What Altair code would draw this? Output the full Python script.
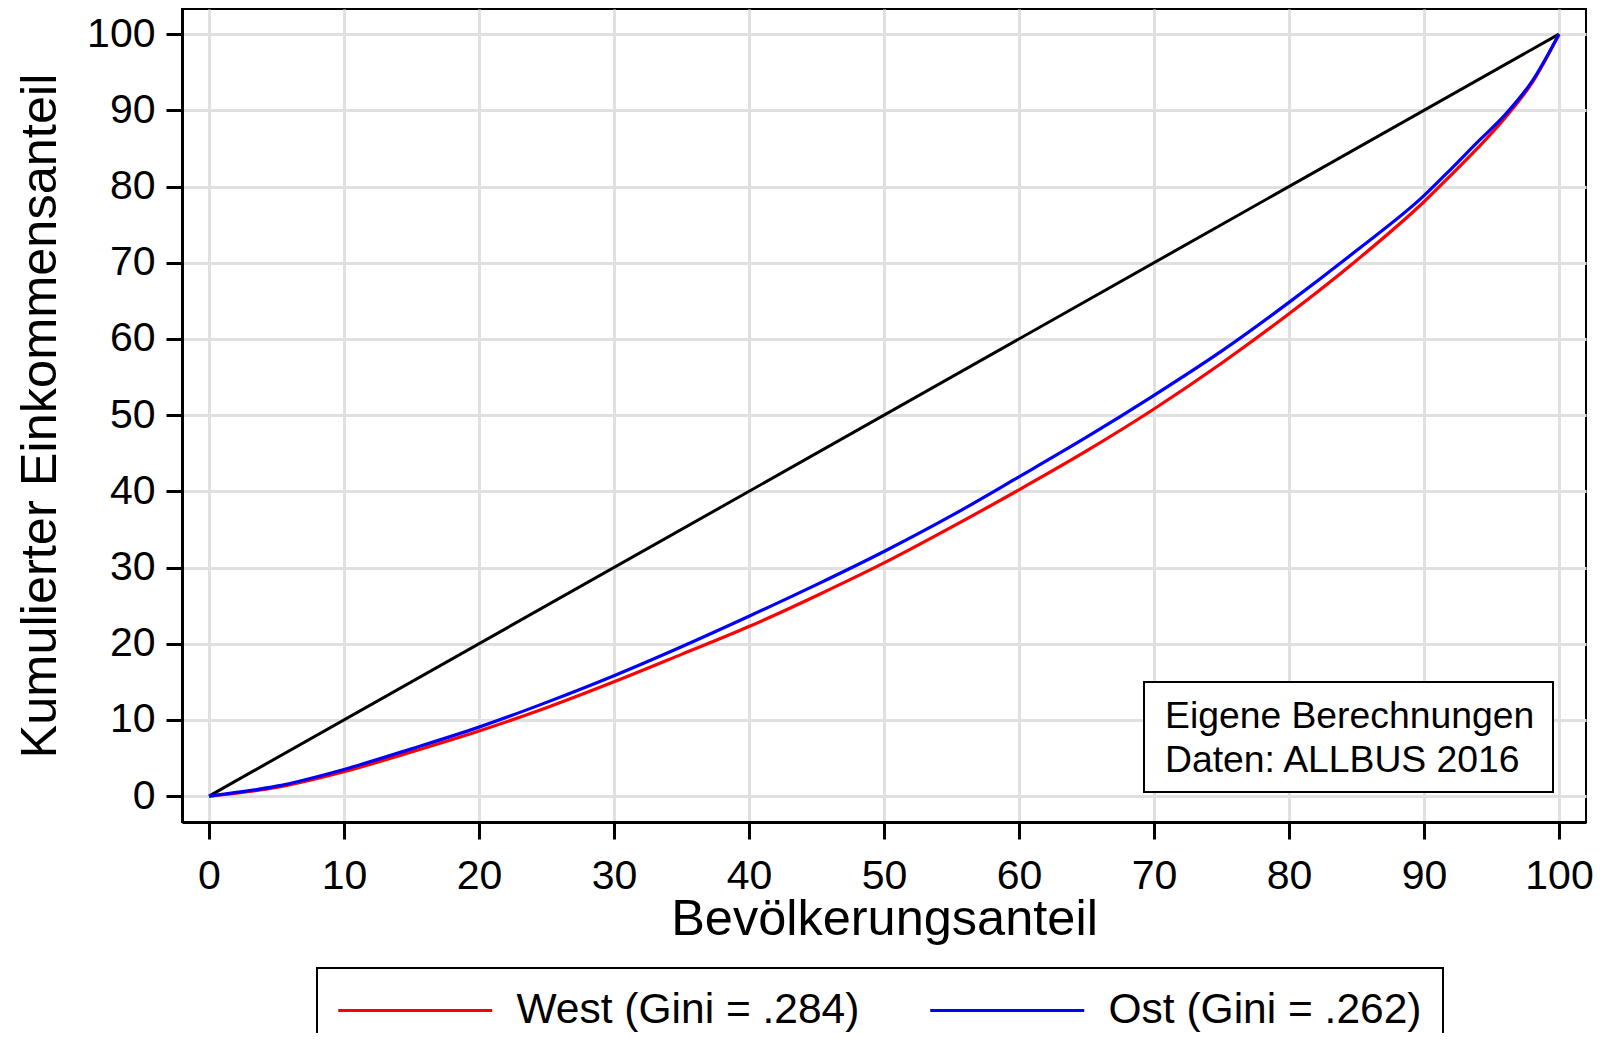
import altair as alt
import pandas as pd

# ---- data ----
pop_share = [0, 5, 10, 15, 20, 25, 30, 35, 40, 45, 50, 55, 60, 65, 70, 75, 80, 85, 90, 92, 94, 96, 98, 100]
west_share = [0, 1.15, 3.2, 5.8, 8.55, 11.6, 15.0, 18.6, 22.25, 26.3, 30.6, 35.3, 40.2, 45.3, 50.8, 56.8, 63.3, 70.3, 78.0, 81.5, 85.1, 89.0, 93.6, 100]
ost_share = [0, 1.3, 3.5, 6.2, 9.05, 12.3, 15.8, 19.6, 23.6, 27.75, 32.1, 36.8, 41.9, 47.1, 52.6, 58.4, 64.8, 71.6, 78.8, 82.3, 85.9, 89.4, 93.8, 100]
diag_x = [0, 100]
diag_y = [0, 100]
series_names = ["West (Gini = .284)", "Ost (Gini = .262)"]
series_colors = ["#ff0000", "#0000ff"]
x_ticks = list(range(0, 101, 10))
y_ticks = list(range(0, 101, 10))
note_lines = ["Eigene Berechnungen", "Daten: ALLBUS 2016"]
x_title = "Bevölkerungsanteil"
y_title = "Kumulierter Einkommensanteil"

FONT = "Liberation Sans"

n = len(pop_share)
curves = pd.DataFrame({
    "x": pop_share * 2,
    "y": west_share + ost_share,
    "series": [series_names[0]] * n + [series_names[1]] * n,
})
diag = pd.DataFrame({"x": diag_x, "y": diag_y})

xenc = alt.X("x:Q",
             scale=alt.Scale(domain=[-2, 102], nice=False, zero=False),
             axis=alt.Axis(values=x_ticks, title=x_title, tickSize=17, labelPadding=17,
                           titleBaseline="alphabetic", titleY=112, format="d"))
yenc = alt.Y("y:Q",
             scale=alt.Scale(domain=[-3.4, 103.3], nice=False, zero=False),
             axis=alt.Axis(values=y_ticks, title=y_title, tickSize=16, labelPadding=11,
                           titleBaseline="alphabetic", titleX=-127, format="d"))

color = alt.Color("series:N",
                  scale=alt.Scale(domain=series_names, range=series_colors),
                  legend=alt.Legend(title=None, orient="none", legendX=135, legendY=959,
                                    direction="horizontal", columns=2,
                                    symbolType="M-4,0H4", symbolSize=1482,
                                    symbolStrokeWidth=3, symbolOffset=56, labelOffset=80,
                                    labelFontSize=42.5, labelFont=FONT, labelColor="black",
                                    labelLimit=1000, columnPadding=64, padding=21,
                                    strokeColor="black"))

diag_layer = alt.Chart(diag).mark_line(color="black", strokeWidth=3).encode(x=xenc, y=yenc)

west_layer = alt.Chart(curves).transform_filter(
    alt.datum.series == series_names[0]
).mark_line(strokeWidth=3.2, interpolate="monotone").encode(x=xenc, y=yenc, color=color)

ost_layer = alt.Chart(curves).transform_filter(
    alt.datum.series == series_names[1]
).mark_line(strokeWidth=3.2, interpolate="monotone").encode(x=xenc, y=yenc, color=color)

note_box = alt.Chart(alt.Data(values=[{}])).mark_rect(
    fill="white", stroke="black", strokeWidth=2
).encode(x=alt.value(962), x2=alt.value(1371), y=alt.value(673), y2=alt.value(783))

note_text = alt.Chart(alt.Data(values=[{}])).mark_text(
    align="left", baseline="alphabetic", font=FONT, fontSize=37.3, lineHeight=43.5, color="black"
).encode(x=alt.value(983), y=alt.value(719), text=alt.value(note_lines))

chart = alt.layer(diag_layer, west_layer, ost_layer, note_box, note_text).properties(
    width=1404, height=813,
    autosize=alt.AutoSizeParams(type="none"),
    padding={"left": 174, "top": 1, "right": 9, "bottom": 211},
).configure_view(
    stroke="black", strokeWidth=2
).configure_axis(
    domainColor="black", domainWidth=3, tickColor="black", tickWidth=3,
    gridColor="#e0e0e0", gridWidth=3,
    labelFont=FONT, labelFontSize=41, labelColor="black",
    titleFont=FONT, titleFontSize=50.5, titleFontWeight="normal", titleColor="black",
).configure_legend(
    strokeWidth=2
)

chart.save("out.html", embed_options={"renderer": "svg", "actions": False})
